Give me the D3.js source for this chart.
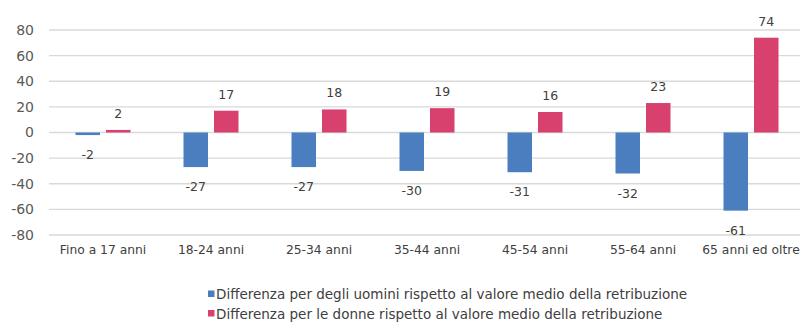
<!DOCTYPE html>
<html>
<head>
<meta charset="utf-8">
<script src="https://cdn.jsdelivr.net/npm/d3@7"></script>
<style>
  html, body { margin: 0; padding: 0; background: #fff; }
  svg { display: block; font-family: "DejaVu Sans", Verdana, sans-serif; }
</style>
</head>
<body>
<svg id="chart" width="805" height="325"></svg>
<script>
// Age groups and the two wage-gap series (difference from the mean wage)
const categories = ["Fino a 17 anni", "18-24 anni", "25-34 anni", "35-44 anni", "45-54 anni", "55-64 anni", "65 anni ed oltre"];
const uomini = [-2, -27, -27, -30, -31, -32, -61];
const donne = [2, 17, 18, 19, 16, 23, 74];
const yTicks = [80, 60, 40, 20, 0, -20, -40, -60, -80];
const seriesNames = [
  "Differenza per degli uomini rispetto al valore medio della retribuzione",
  "Differenza per le donne rispetto al valore medio della retribuzione"
];
const colors = ["#4a7ebf", "#d8416e"];

const svg = d3.select("#chart");
const plotLeft = 49, plotRight = 805, plotTop = 30, plotBottom = 235;

const x = d3.scaleBand().domain(categories).range([plotLeft, plotRight]);
const y = d3.scaleLinear().domain([-80, 80]).range([plotBottom, plotTop]);

const barW = 24.5, gap = 6;
const fmt = d => String(d); // plain hyphen-minus for negatives

// Gridlines
svg.append("g").selectAll("line").data(yTicks).join("line")
  .attr("x1", plotLeft).attr("x2", 800)
  .attr("y1", d => y(d)).attr("y2", d => y(d))
  .attr("stroke", "#d9d9d9").attr("stroke-width", 1.3);

// Y axis labels
const yAxis = d3.axisLeft(y).tickValues(yTicks).tickFormat(fmt).tickSize(0).tickPadding(0);
const ga = svg.append("g").attr("transform", `translate(34,0)`).call(yAxis);
ga.select(".domain").remove();
ga.selectAll("text").attr("font-size", 14).attr("fill", "#595959")
  .attr("font-family", "DejaVu Sans, sans-serif");

// X axis labels
const xAxis = d3.axisBottom(x).tickSize(0).tickPadding(0);
const gx = svg.append("g").attr("transform", `translate(0,245.5)`).call(xAxis);
gx.select(".domain").remove();
gx.selectAll("text").attr("font-size", 12.3).attr("fill", "#404040")
  .attr("font-family", "DejaVu Sans, sans-serif");

const series = [uomini, donne];
series.forEach((vals, si) => {
  const xpos = (c) => x(c) + x.bandwidth() / 2 + (si === 0 ? -gap / 2 - barW : gap / 2);
  const g = svg.append("g");
  g.selectAll("rect").data(vals).join("rect")
    .attr("x", (d, i) => xpos(categories[i]))
    .attr("width", barW)
    .attr("y", d => y(Math.max(0, d)))
    .attr("height", d => Math.abs(y(d) - y(0)))
    .attr("fill", colors[si]);
  g.selectAll("text").data(vals).join("text")
    .attr("x", (d, i) => xpos(categories[i]) + barW / 2)
    .attr("y", d => d >= 0 ? y(d) - 12 : y(d) + 24)
    .attr("text-anchor", "middle")
    .attr("font-size", 12.5).attr("fill", "#404040")
    .text(fmt);
});

// Legend
const lg = svg.append("g");
seriesNames.forEach((name, i) => {
  const cy = 294 + i * 19.5;
  lg.append("rect").attr("x", 208).attr("y", cy - 3.5).attr("width", 6.5).attr("height", 6.5).attr("fill", colors[i]);
  lg.append("text").attr("x", 216).attr("y", cy + 5)
    .attr("font-size", 13.5).attr("fill", "#404040").text(name);
});
</script>
</body>
</html>
